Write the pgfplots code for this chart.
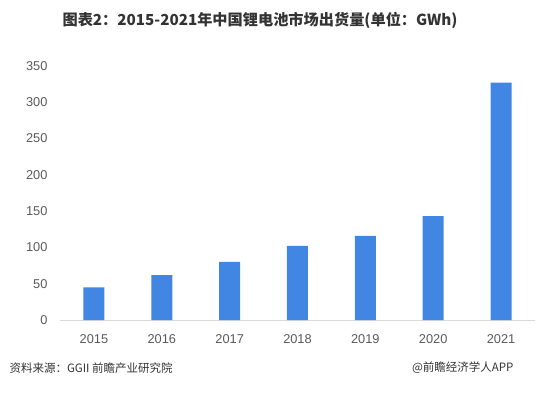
\documentclass[border=0pt]{standalone}
\usepackage{pgfplots}
\pgfplotsset{compat=1.18}
\usepackage{fontspec}
\setmainfont{Liberation Sans}
\newfontfamily\cjk{Noto Sans CJK SC}
\definecolor{barblue}{HTML}{4186E2}
\definecolor{ticktext}{HTML}{595959}
\definecolor{axisgray}{HTML}{D9D9D9}
\definecolor{titletext}{HTML}{333333}
\begin{document}
\begin{tikzpicture}[x=1pt,y=1pt]
\path[use as bounding box] (0,0) rectangle (549,397);
\begin{axis}[
  at={(60pt,77pt)}, anchor=south west,
  scale only axis, width=475pt, height=254pt,
  xmin=-0.5, xmax=6.5, ymin=0, ymax=350,
  ytick={0,50,...,350},
  xtick=data,
  xticklabels={2015,2016,2017,2018,2019,2020,2021},
  axis x line*=bottom,
  axis y line*=left,
  x axis line style={draw=axisgray, line width=0.8pt, -},
  y axis line style={draw=none},
  major tick length=0pt,
  ticklabel style={font=\fontsize{12.8}{14}\selectfont, text=ticktext},
  yticklabel style={anchor=east, xshift=-9pt},
  xticklabel style={yshift=-11pt},
  /pgf/number format/assume math mode=true,
  ybar, bar width=21pt,
  clip=false,
]
\addplot[fill=barblue, draw=none] coordinates {
 (0,45) (1,62) (2,80) (3,102) (4,116) (5,143) (6,327)};
\end{axis}
\node[font=\cjk\bfseries\fontsize{15.2}{17}\selectfont, text=titletext] at (260,377) {图表2：2015-2021年中国锂电池市场出货量(单位：GWh)};
\node[anchor=west, font=\cjk\fontsize{11.5}{13}\selectfont, text=titletext] at (6,29) {资料来源：GGII 前瞻产业研究院};
\node[anchor=east, font=\cjk\fontsize{11.5}{13}\selectfont, text=titletext] at (517,29) {@前瞻经济学人APP};
\end{tikzpicture}
\end{document}
